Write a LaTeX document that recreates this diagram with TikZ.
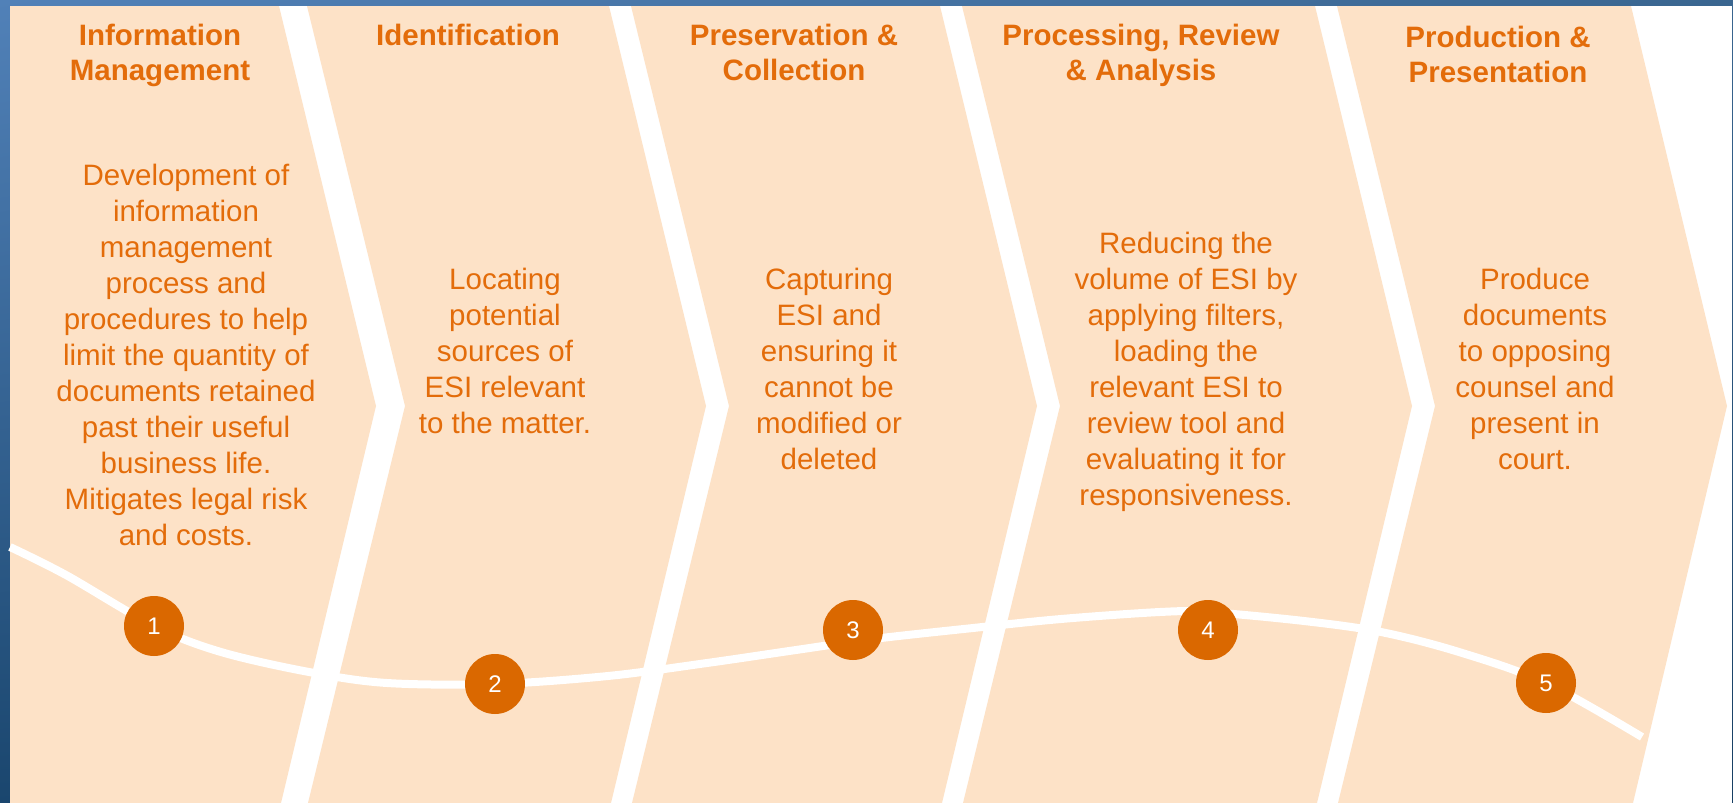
\documentclass[tikz,border=0pt]{standalone}
\usepackage{fontspec}
\usetikzlibrary{shadings}
\setmainfont{Liberation Sans}
\definecolor{peach}{HTML}{FDE2C7}
\definecolor{txtor}{HTML}{E36C0A}
\definecolor{circor}{HTML}{DA6800}
\definecolor{bgul}{HTML}{5181B8}
\definecolor{bgur}{HTML}{3A6690}
\definecolor{bgll}{HTML}{1A466E}
\definecolor{bglr}{HTML}{173F63}
\newcommand\topstrut{\rule{0pt}{25pt}}
\begin{document}
\begin{tikzpicture}[x=1pt,y=-1pt,
  chev/.style={fill=peach,draw=none},
  ttl/.style={anchor=north,inner sep=0pt,align=center,text=txtor,font=\fontsize{29.5}{35}\selectfont\bfseries},
  body/.style={anchor=north,inner sep=0pt,align=center,text=txtor,font=\fontsize{29.5}{36}\selectfont},
  num/.style={circle,fill=circor,minimum size=60pt,inner sep=0pt,text=white,font=\fontsize{24}{24}\selectfont},
  wave/.style={white,line width=8pt}]
\useasboundingbox (0,0) rectangle (1733,803);
% background
\shade[upper left=bgul,upper right=bgur,lower left=bgll,lower right=bglr] (0,0) rectangle (1733,803);
\fill[white] (10,6) rectangle (1731.5,803);
% chevrons
\fill[chev] (10,6) -- (279,6) -- (376,406) -- (281,803) -- (10,803) -- cycle;
\fill[chev] (307,6) -- (609,6) -- (706,406) -- (611,803) -- (308,803) -- (405,406) -- cycle;
\fill[chev] (631,6) -- (940,6) -- (1037,406) -- (942,803) -- (632,803) -- (729,406) -- cycle;
\fill[chev] (962,6) -- (1315,6) -- (1412,406) -- (1317,803) -- (963,803) -- (1060,406) -- cycle;
\fill[chev] (1337,6) -- (1631,6) -- (1727,406) -- (1633,803) -- (1338,803) -- (1435,406) -- cycle;
% titles
\node[ttl] (t1) at (160,20) {\topstrut Information\\Management};
\node[ttl] (t2) at (468,20) {\topstrut Identification};
\node[ttl] (t3) at (794,20) {\topstrut Preservation \&\\Collection};
\node[ttl] (t4) at (1141,20) {\topstrut Processing, Review\\\& Analysis};
\node[ttl] (t5) at (1498,22) {\topstrut Production \&\\Presentation};
% bodies
\node[body] (b1) at (186,160) {\topstrut Development of\\information\\management\\process and\\procedures to help\\limit the quantity of\\documents retained\\past their useful\\business life.\\Mitigates legal risk\\and costs.};
\node[body] (b2) at (505,264) {\topstrut Locating\\potential\\sources of\\ESI relevant\\to the matter.};
\node[body] (b3) at (829,264) {\topstrut Capturing\\ESI and\\ensuring it\\cannot be\\modified or\\deleted};
\node[body] (b4) at (1186,228) {\topstrut Reducing the\\volume of ESI by\\applying filters,\\loading the\\relevant ESI to\\review tool and\\evaluating it for\\responsiveness.};
\node[body] (b5) at (1535,264) {\topstrut Produce\\documents\\to opposing\\counsel and\\present in\\court.};
% wave
\draw[wave] plot[smooth,tension=0.55] coordinates {(10,547) (66,575) (154,626) (221,652) (309,672) (387,683) (496,684) (608,676) (707,663) (796,650) (873,639) (973,628) (1061,619) (1160,612) (1208,612) (1304,621) (1381,632) (1459,652) (1546,683) (1642,737)};
% numbers
\node[num] (n1) at (154,626) {1};
\node[num] (n2) at (495,684) {2};
\node[num] (n3) at (853,630) {3};
\node[num] (n4) at (1208,630) {4};
\node[num] (n5) at (1546,683) {5};
\end{tikzpicture}
\end{document}
